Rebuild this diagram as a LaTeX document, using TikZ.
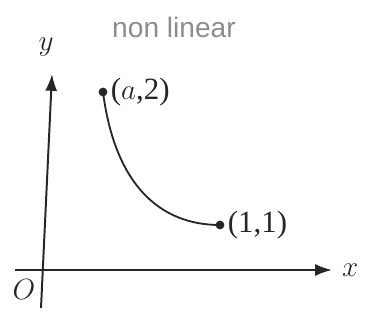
\documentclass[tikz,border=0pt]{standalone}
\usepackage{fontspec}
\setmainfont{Liberation Serif}
\newfontfamily\handfont{Liberation Sans}
\usetikzlibrary{arrows.meta, positioning}

\begin{document}
\begin{tikzpicture}[
  x=0.025cm, y=-0.025cm,
  axis/.style={line width=1.4pt, black!85, -{Latex[length=4.2mm, width=3mm]}},
  pt/.style={circle, fill=black!85, inner sep=0pt, minimum size=2.2mm},
  lbl/.style={font=\fontsize{22}{24}\selectfont, inner sep=1pt, text=black!85},
  curve/.style={line width=1.3pt, black!85}
]
  \useasboundingbox (0,0) rectangle (366,320);

  % axes
  \coordinate (xs) at (15,270);
  \coordinate (xe) at (332,270);
  \coordinate (ys) at (41,308);
  \coordinate (ye) at (52,74);
  \draw[axis] (xs) -- (xe);
  \draw[axis] (ys) -- (ye);
  \node[lbl, right=6pt of xe] (xl) {$x$};
  \node[lbl] (yl) at (46,47) {$y$};
  \node[lbl] (o) at (24,290) {$O$};

  % end points of the curve
  \node[pt] (p) at (103,92) {};
  \node[pt] (q) at (220,225) {};
  \node[lbl, right=1pt of p] (pl) {($a$,2)};
  \node[lbl, right=1pt of q] (ql) {(1,1)};

  \draw[curve] (p.center) .. controls (115,185) and (160,225) .. (q.center);

  % note
  \node[font=\handfont\fontsize{20}{22}\selectfont, text=black!45] (note) at (174,27) {non linear};
\end{tikzpicture}
\end{document}
